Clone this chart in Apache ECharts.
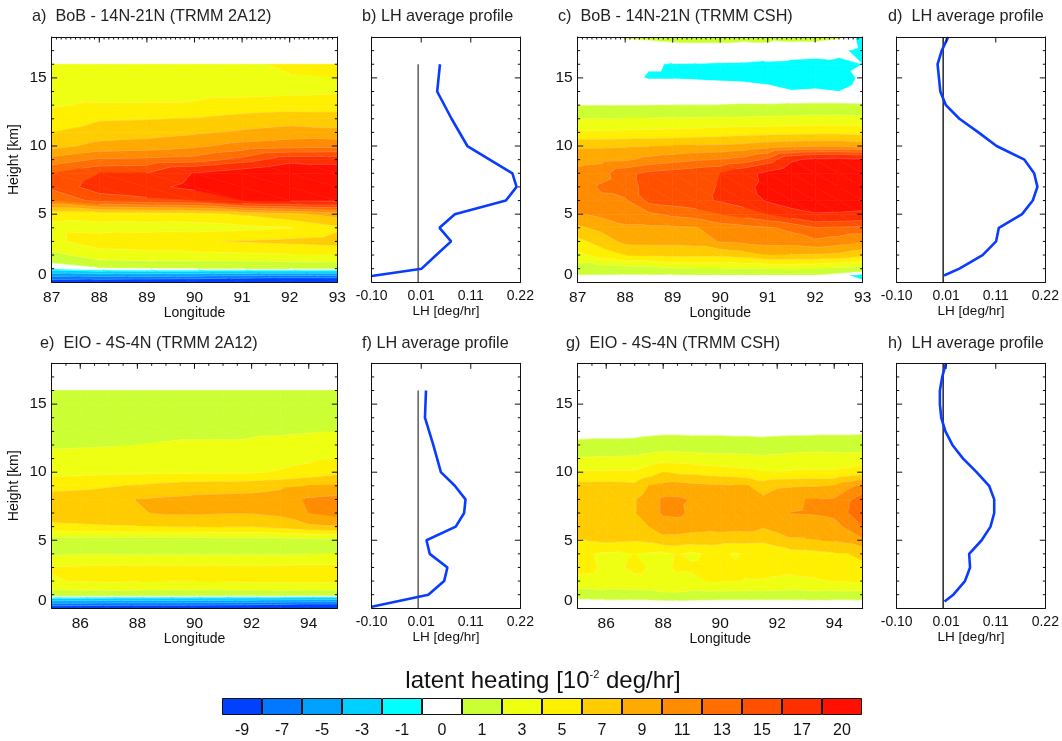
<!DOCTYPE html>
<html>
<head>
<meta charset="utf-8">
<title>latent heating</title>
<script src="https://cdn.jsdelivr.net/npm/echarts@6/dist/echarts.min.js"></script>
<style>
  html, body { margin: 0; padding: 0; background: #fff; }
  #chart-container { width: 1062px; height: 741px; }
</style>
</head>
<body>
<div id="chart-container"></div>
<script>
// colour bar, values in 10^-2 deg/hr. a band runs from its label up to the next one
const colorbarLabels = ['-9', '-7', '-5', '-3', '-1', '0', '1', '3', '5', '7', '9', '11', '13', '15', '17', '20'];
const bandLevels = [-Infinity, -7, -5, -3, -1, 0, 1, 3, 5, 7, 9, 11, 13, 15, 17, 20];
const bandColors = ['#0040ff', '#0078ff', '#00a0ff', '#00d0ff', '#00ffff', '#ffffff', '#ccff33', '#eeff11',
  '#fff000', '#ffcc00', '#ffaa00', '#ff8c00', '#ff6e00', '#ff5000', '#ff3000', '#ff1000'];

// a) BoB 2A12, rows go from the top height down
const bobLon2a12 = [87, 88, 89, 90, 91, 92, 93];
const bobHeights2a12 = [16, 15, 14, 13, 12, 11, 10, 9, 8, 7, 6, 5, 4, 3, 2, 1, 0];
const bobRows2a12 = [
  [3.6, 3.5, 3.5, 3.6, 3.9, 6, 6.2],
  [3.6, 3.5, 3.5, 3.7, 3.9, 4.5, 5],
  [4.2, 3.8, 3.9, 4.4, 4.4, 4.6, 4.8],
  [4.8, 5.3, 5.3, 5.3, 5.8, 6, 6],
  [5.5, 6.8, 6.9, 7.1, 7.7, 8.1, 8],
  [7, 8, 8.2, 8.7, 9.3, 9.8, 9.5],
  [8.3, 9.6, 9.9, 10.6, 11.7, 12.2, 12.5],
  [11.7, 13.3, 13.5, 13.9, 15.7, 18.5, 18.5],
  [15, 17, 17.1, 20.2, 22, 24, 23],
  [15.5, 18.1, 19, 21, 24, 25, 25],
  [13, 15.8, 16.4, 17, 20, 20.4, 20.5],
  [5.5, 5.8, 6, 6.2, 7.3, 8.5, 9.8],
  [4.6, 4.4, 4.3, 4.2, 4.5, 4.9, 6.6],
  [4.6, 5.9, 6.3, 6.8, 7.15, 7.5, 7.9],
  [2.3, 4.2, 4.4, 4.4, 4.6, 4.8, 5],
  [0, 0.8, 0.95, 1, 1, 1.05, 1.05],
  [-8.8, -9.2, -9.5, -9.8, -10.5, -11, -11],
];

// c) BoB CSH
const bobLonCsh = [87, 87.5, 88, 88.5, 89, 89.5, 90, 90.5, 91, 91.5, 92, 92.5, 93];
const bobHeightsCsh = [18, 17, 16, 15, 14, 13, 12, 11, 10, 9, 8, 7, 6, 5, 4, 3, 2, 1, 0.5, 0];
const bobRowsCsh = [
  [0.6, 0.8, 1.1, 1.2, 1.3, 1.3, 1.3, 1.2, 1.2, 1.3, 1.3, 1.1, -0.5],
  [0.2, 0.2, 0.2, 0.3, 0.5, 0.6, 0.6, 0.6, 0.7, 0.45, 0.37, 0.2, -0.3],
  [0.3, 0.3, 0.25, 0.05, -0.03, -0.04, -0.08, -0.1, -0.2, -0.25, -0.3, -0.2, 0],
  [0.3, 0.3, 0.2, -0.05, -0.05, -0.1, -0.15, -0.2, -0.3, -0.5, -0.4, -0.5, 0.2],
  [0.5, 0.5, 0.5, 0.5, 0.5, 0.6, 0.5, 0.45, 0.3, 0.05, 0.1, 0, 0.4],
  [0.95, 0.95, 0.95, 0.97, 1, 1, 1, 1.05, 1.05, 1.1, 1.15, 1.15, 1.1],
  [3, 3, 3, 3.1, 3.2, 3.2, 3.3, 3.3, 3.4, 3.5, 3.6, 3.6, 3.5],
  [5.3, 5.3, 5.4, 5.5, 5.6, 5.8, 6, 6.2, 6.3, 6.4, 6.5, 6.5, 6.3],
  [8.7, 8.7, 8.8, 8.9, 9, 9.2, 9.3, 9.6, 10.1, 10.4, 10.6, 10.6, 10.2],
  [10.3, 10.5, 10.7, 11.6, 12.2, 12.8, 13.1, 13.8, 15.5, 19.5, 20.8, 21, 20.5],
  [11.6, 12.2, 14.5, 15.5, 16, 16.5, 17, 19, 20.8, 22.5, 23.5, 24, 23.5],
  [11.8, 13.3, 14.2, 15.6, 16.3, 16.6, 17.1, 19.5, 20.6, 22, 23, 23, 23],
  [12.5, 12.6, 12.7, 15.6, 16, 16.5, 17.2, 18, 20.4, 22, 23, 23.3, 23],
  [10.8, 11.5, 12, 12.6, 13.5, 14, 15, 16, 17, 18.5, 19.7, 19.5, 19],
  [8.6, 9.6, 10.7, 10.7, 10.7, 10.9, 12, 12.4, 12.8, 13.5, 14.9, 14.7, 14.6],
  [6.4, 7.8, 9.6, 9.6, 9.6, 9.8, 11.2, 11.5, 11.9, 12, 12.6, 12, 11],
  [4.4, 6, 7, 7.3, 7.5, 7.5, 7.4, 8, 9, 8.8, 8.8, 8.5, 7.5],
  [2, 1.9, 2, 2.1, 2.8, 2.9, 3, 3, 3, 3.2, 3, 2.5, 2],
  [0.9, 0.9, 0.85, 0.85, 0.8, 0.85, 0.85, 0.9, 0.85, 0.85, 0.85, 0.3, -0.4],
  [0.2, 0.2, 0.2, 0.2, 0.2, 0.2, 0.2, 0.2, 0.2, 0.2, 0.2, 0.2, 0.2],
];

// e) EIO 2A12
const eioLon2a12 = [85, 86, 87, 88, 89, 90, 91, 92, 93, 94, 95];
const eioHeights2a12 = [16, 15, 14, 13, 12, 11, 10, 9, 8, 7, 6, 5, 4, 3, 2, 1, 0];
const eioRows2a12 = [
  [2, 2, 2, 2, 2.1, 2.2, 2.2, 2.2, 2.2, 2.2, 2.2],
  [2, 2, 2, 2.1, 2.1, 2.2, 2.2, 2.2, 2.3, 2.3, 2.3],
  [2.2, 2.2, 2.2, 2.3, 2.3, 2.4, 2.4, 2.4, 2.5, 2.5, 2.5],
  [2.5, 2.5, 2.6, 2.6, 2.7, 2.7, 2.7, 2.8, 2.8, 2.9, 3],
  [2.7, 2.8, 2.9, 3, 3.1, 3.2, 3.2, 3.2, 3.4, 3.6, 3.9],
  [3.7, 3.7, 3.7, 3.7, 3.8, 3.8, 3.9, 3.9, 4.2, 4.6, 5],
  [4.4, 4.5, 4.6, 4.6, 4.7, 4.7, 4.7, 4.8, 5.2, 5.8, 6.5],
  [6.2, 6.4, 6.8, 7.2, 7.6, 8, 8.1, 8.2, 8.6, 9, 9.3],
  [8.2, 8.3, 8.5, 9.05, 9.3, 9.5, 9.6, 9.7, 10, 11.3, 11.7],
  [8.4, 8.5, 8.6, 8.8, 9.3, 9.3, 9.1, 9.1, 9.4, 11, 11.8],
  [6.4, 6.6, 6.8, 6.9, 7, 7, 7.1, 7.1, 7.8, 8.6, 8.9],
  [1.9, 2, 2, 2, 2, 2, 2.1, 2.1, 2.1, 2.2, 2.2],
  [2.7, 2.9, 2.9, 2.8, 2.8, 2.8, 2.8, 2.8, 2.8, 2.9, 3],
  [5.1, 5.3, 5.4, 5.4, 5.4, 5.4, 5.4, 5.3, 5.4, 5.5, 5.6],
  [4.9, 5.1, 5.3, 5.1, 5, 5, 5.2, 5.3, 5.4, 5.4, 5.5],
  [2, 2, 1.9, 1.9, 1.9, 1.9, 1.8, 1.8, 1.8, 1.7, 1.7],
  [-9, -9.2, -9.4, -9.6, -9.6, -9.7, -9.8, -10, -10.5, -11, -11],
];

// g) EIO CSH
const eioLonCsh = [85, 85.5, 86, 86.5, 87, 87.5, 88, 88.5, 89, 89.5, 90, 90.5, 91, 91.5, 92, 92.5, 93, 93.5, 94, 94.5, 95];
const eioHeightsCsh = [14, 13, 12, 11, 10, 9, 8, 7, 6, 5, 4, 3, 2, 1, 0.5, 0];
const eioRowsCsh = [
  [0.4, 0.4, 0.4, 0.4, 0.4, 0.4, 0.4, 0.4, 0.4, 0.4, 0.4, 0.4, 0.4, 0.4, 0.4, 0.4, 0.4, 0.4, 0.4, 0.4, 0.4],
  [0.4, 0.45, 0.45, 0.45, 0.5, 0.6, 0.7, 0.7, 0.65, 0.65, 0.65, 0.6, 0.6, 0.55, 0.6, 0.65, 0.65, 0.7, 0.7, 0.7, 0.75],
  [1.4, 1.45, 1.45, 1.45, 1.5, 1.7, 1.8, 1.8, 1.75, 1.75, 1.75, 1.7, 1.7, 1.6, 1.7, 1.75, 1.75, 1.8, 1.8, 1.8, 1.8],
  [3.2, 3.2, 3.3, 3.3, 3.4, 3.8, 4.2, 4.2, 4, 3.8, 3.7, 3.7, 3.6, 3.4, 3.6, 3.8, 4, 4.1, 4, 3.9, 3.9],
  [5.2, 5.2, 5.3, 5.3, 5.2, 6, 7, 6.6, 6.5, 6.2, 6, 5.8, 5.5, 5, 5.1, 5.2, 5.3, 5.2, 5.2, 5.5, 5.9],
  [7.7, 7.7, 7.8, 7.7, 7.5, 9, 9.6, 9.9, 9.6, 9.4, 9.3, 9.2, 9, 8, 8.7, 8.8, 8.9, 8.9, 9, 10.5, 11.5],
  [8.2, 8.2, 8.3, 8.4, 8.9, 10, 11.3, 11.3, 10.9, 10.5, 10.3, 10.3, 10.3, 9.4, 10.2, 10.6, 11, 11.1, 11.2, 12.7, 14],
  [8.3, 8.3, 8.4, 8.5, 8.9, 9.9, 11.3, 11.5, 10.6, 10.3, 10.2, 10.3, 10.4, 10.2, 10.6, 11.05, 11.1, 11.2, 11.5, 13, 14.6],
  [8, 8, 8.2, 8.3, 8.3, 9, 10, 10, 9.8, 9.7, 9.9, 9.8, 9.9, 9.2, 9.8, 9.9, 10.2, 10.2, 10.3, 11.5, 13],
  [6.8, 7.2, 7.5, 7.3, 7.2, 7.5, 8.3, 8.3, 8, 7.9, 7.7, 7.6, 7.5, 7.4, 8, 8.8, 8.8, 9, 9.2, 9.6, 10.8],
  [5.5, 5.1, 4.7, 4.6, 5, 4.7, 4.6, 5.1, 4.6, 5.2, 5.4, 4.8, 5.3, 5.2, 5.8, 6.2, 6.3, 6.5, 6.8, 7, 7.2],
  [5.4, 5.3, 4.5, 4.8, 5.5, 4.9, 4.7, 5.2, 5.3, 5.5, 5.6, 5.3, 5.6, 5.6, 5.7, 5.7, 5.6, 5.8, 6, 6.4, 6.8],
  [4.6, 4.6, 4.3, 4.3, 4.3, 4.5, 4.8, 4.7, 4.5, 5, 5.1, 5.1, 4.9, 4.9, 4.7, 4.4, 4.7, 4.9, 5.1, 5.1, 5],
  [1.7, 1.8, 2.2, 2.1, 2.2, 2.3, 2.5, 2.6, 2.4, 2.3, 2.2, 2.2, 2.2, 2.2, 2.2, 2.2, 2.3, 2.3, 2.2, 2.2, 2.1],
  [0.6, 0.6, 0.6, 0.6, 0.6, 0.6, 0.7, 0.7, 0.65, 0.6, 0.6, 0.6, 0.6, 0.6, 0.6, 0.6, 0.6, 0.6, 0.6, 0.6, 0.65],
  [0.3, 0.3, 0.3, 0.3, 0.3, 0.3, 0.3, 0.3, 0.3, 0.3, 0.3, 0.3, 0.3, 0.3, 0.3, 0.3, 0.3, 0.3, 0.3, 0.3, 0.3],
];

// average profiles, [LH in deg/hr, height in km]
const profileB = [[0.047, 16], [0.041, 14], [0.072, 12], [0.106, 10], [0.203, 8], [0.212, 7], [0.189, 6], [0.079, 5],
  [0.046, 4], [0.071, 3], [0.039, 2], [0.0076, 1], [-0.1, 0.46]];
const profileD = [[0.011, 18], [-0.003, 17], [-0.012, 16], [-0.009, 15], [-0.006, 14], [0.006, 13], [0.035, 12],
  [0.076, 11], [0.115, 10], [0.175, 9], [0.196, 8], [0.203, 7], [0.193, 6], [0.17, 5], [0.12, 4], [0.114, 3],
  [0.085, 2], [0.035, 1], [0.002, 0.5]];
const profileF = [[0.0169, 16], [0.0147, 14], [0.0326, 12], [0.049, 10], [0.079, 9], [0.102, 8], [0.099, 7], [0.081, 6],
  [0.018, 5], [0.025, 4], [0.063, 3], [0.056, 2], [0.022, 1], [-0.1, 0.12]];
const profileH = [[0.006, 18], [-0.002, 17], [-0.007, 16], [-0.007, 15], [-0.004, 14], [0.005, 13], [0.02, 12],
  [0.043, 11], [0.072, 10], [0.099, 9], [0.11, 8], [0.11, 7], [0.102, 6], [0.083, 5], [0.056, 4], [0.058, 3],
  [0.047, 2], [0.022, 1], [0.003, 0.5]];
const zeroLine2a12 = [[0, 16], [0, 0]];
const zeroLineCsh = [[0, 18], [0, 0]];

// tick labels
const heightTicks = [0, 5, 10, 15];
const bobLonLabels = [87, 88, 89, 90, 91, 92, 93];
const bobLonTicks = [88, 89, 90, 91, 92];
const eioLonLabels = [86, 88, 90, 92, 94];
const lhTicks = [-0.1, 0.32 / 3 - 0.1, 0.64 / 3 - 0.1, 0.22];

const font = '"Liberation Sans", Arial, sans-serif';
const inkColor = '#111';
const longTick = 5.5;
const shortTick = 2.5;
const option = {
  animation: false,
  textStyle: { fontFamily: font },
  title: [],
  grid: [],
  xAxis: [],
  yAxis: [],
  series: [],
};

function clipBand(poly, level, sign) {
  let out = [];
  poly.forEach((p, i) => {
    let q = poly[(i + 1) % poly.length];
    let pIn = sign * (p[2] - level) >= 0;
    let qIn = sign * (q[2] - level) >= 0;
    if (pIn) out.push(p);
    if (pIn !== qIn) {
      let t = (level - p[2]) / (q[2] - p[2]);
      out.push([p[0] + t * (q[0] - p[0]), p[1] + t * (q[1] - p[1]), level]);
    }
  });
  return out;
}

function contourItem(longitudes, heights, rows) {
  return function (params, api) {
    let i = api.value(2);
    let j = api.value(3);
    let c00 = [longitudes[i], heights[j], rows[j][i]];
    let c10 = [longitudes[i + 1], heights[j], rows[j][i + 1]];
    let c11 = [longitudes[i + 1], heights[j + 1], rows[j + 1][i + 1]];
    let c01 = [longitudes[i], heights[j + 1], rows[j + 1][i]];
    let fills = [];
    let lines = [];
    [[c00, c10, c11], [c00, c11, c01]].forEach((tri) => {
      bandLevels.forEach((lo, b) => {
        let hi = b + 1 < bandLevels.length ? bandLevels[b + 1] : Infinity;
        let poly = tri;
        if (lo !== -Infinity) poly = clipBand(poly, lo, 1);
        if (poly.length > 2 && hi !== Infinity) poly = clipBand(poly, hi, -1);
        if (poly.length < 3) return;
        let color = bandColors[b];
        fills.push({
          type: 'polygon',
          silent: true,
          shape: { points: poly.map((p) => api.coord([p[0], p[1]])) },
          style: { fill: color, stroke: color, lineWidth: 0.6 },
        });
        // faint edge as in the postscript contour fill
        if (lo !== -Infinity) {
          let edge = poly.filter((p) => p[2] === lo).map((p) => api.coord([p[0], p[1]]));
          if (edge.length === 2) {
            lines.push({
              type: 'line',
              silent: true,
              z2: 5,
              shape: { x1: edge[0][0], y1: edge[0][1], x2: edge[1][0], y2: edge[1][1] },
              style: { stroke: 'rgba(255,255,255,0.3)', lineWidth: 0.6 },
            });
          }
        }
      });
    });
    return { type: 'group', children: fills.concat(lines) };
  };
}

// inward tick: [x, y, pixels in x, pixels in y]
function tickItem(params, api) {
  let p = api.coord([api.value(0), api.value(1)]);
  return {
    type: 'line',
    silent: true,
    shape: { x1: p[0], y1: p[1], x2: p[0] + api.value(2), y2: p[1] + api.value(3) },
    style: { stroke: inkColor, lineWidth: 1 },
  };
}

function boxTicks(xCfg) {
  let ticks = [];
  (xCfg.minorTicks || []).forEach((x) => ticks.push([x, 18, 0, shortTick]));
  xCfg.majorTicks.forEach((x) => ticks.push([x, 18, 0, longTick]));
  for (let h = 1; h < 18; h++) {
    let len = heightTicks.includes(h) ? longTick : shortTick;
    ticks.push([xCfg.min, h, len, 0]);
    ticks.push([xCfg.max, h, -len, 0]);
  }
  return ticks;
}

// one box with bottom/left labelled axes, plain top/right edges
function addBox(rect, xCfg, showHeightLabels, heightName) {
  let g = option.grid.length;
  let line = { show: true, onZero: false, lineStyle: { color: inkColor, width: 1 } };
  option.grid.push({ show: false, left: rect[0], top: rect[1], width: rect[2], height: rect[3] });

  let xMain = option.xAxis.length;
  let yMain = option.yAxis.length;
  option.xAxis.push({
    type: 'value', gridIndex: g, position: 'bottom', min: xCfg.min, max: xCfg.max, z: 6,
    axisLine: line, axisTick: { show: false }, splitLine: { show: false },
    name: xCfg.name, nameLocation: 'middle', nameGap: xCfg.nameGap,
    nameTextStyle: { fontSize: xCfg.nameSize, color: inkColor },
    axisLabel: {
      customValues: xCfg.labels, margin: xCfg.margin, fontSize: xCfg.labelSize, color: inkColor,
      formatter: xCfg.formatter, showMinLabel: true, showMaxLabel: true, hideOverlap: false,
    },
  });
  option.xAxis.push({
    type: 'value', gridIndex: g, position: 'top', min: xCfg.min, max: xCfg.max, z: 6,
    axisLine: line, axisLabel: { show: false }, splitLine: { show: false }, axisTick: { show: false },
  });
  option.yAxis.push({
    type: 'value', gridIndex: g, position: 'left', min: 0, max: 18, z: 6,
    axisLine: line, splitLine: { show: false }, axisTick: { show: false },
    name: heightName, nameLocation: 'middle', nameGap: 31,
    nameTextStyle: { fontSize: 14, color: inkColor },
    axisLabel: {
      show: showHeightLabels, customValues: heightTicks, margin: 5, fontSize: 15.5, color: inkColor,
      verticalAlignMinLabel: 'bottom',
    },
  });
  option.yAxis.push({
    type: 'value', gridIndex: g, position: 'right', min: 0, max: 18, z: 6,
    axisLine: line, splitLine: { show: false }, axisLabel: { show: false }, axisTick: { show: false },
  });
  option.series.push({
    type: 'custom',
    xAxisIndex: xMain,
    yAxisIndex: yMain,
    coordinateSystem: 'cartesian2d',
    silent: true,
    clip: false,
    z: 5,
    encode: { x: 0, y: 1 },
    data: boxTicks(xCfg),
    renderItem: tickItem,
  });
  return { xMain, yMain };
}

function addContour(rect, longitudes, heights, rows, lonLabels, lonTicks, minorTicks, heightName) {
  let axes = addBox(rect, {
    min: longitudes[0], max: longitudes[longitudes.length - 1],
    labels: lonLabels, majorTicks: lonTicks, minorTicks,
    name: 'Longitude', nameGap: 23, nameSize: 14, margin: 7, labelSize: 15.5,
  }, true, heightName);
  let cells = [];
  for (let j = 0; j + 1 < heights.length; j++) {
    for (let i = 0; i + 1 < longitudes.length; i++) {
      cells.push([longitudes[i], heights[j], i, j]);
    }
  }
  option.series.push({
    type: 'custom',
    xAxisIndex: axes.xMain,
    yAxisIndex: axes.yMain,
    coordinateSystem: 'cartesian2d',
    silent: true,
    clip: true,
    encode: { x: 0, y: 1 },
    data: cells,
    renderItem: contourItem(longitudes, heights, rows),
  });
}

function addProfile(rect, profile, zeroLine, zeroColor) {
  let axes = addBox(rect, {
    min: -0.1, max: 0.22,
    labels: lhTicks, majorTicks: lhTicks.slice(1, 3), minorTicks: null,
    name: 'LH [deg/hr]', nameGap: 21.5, nameSize: 13.5, margin: 7, labelSize: 14,
    formatter: (v) => v.toFixed(2),
  }, false, '');
  option.series.push({
    type: 'line', xAxisIndex: axes.xMain, yAxisIndex: axes.yMain, data: zeroLine, symbol: 'none', silent: true,
    lineStyle: { color: zeroColor, width: 1.3 },
  });
  option.series.push({
    type: 'line', xAxisIndex: axes.xMain, yAxisIndex: axes.yMain, data: profile, symbol: 'none', silent: true,
    z: 3, lineStyle: { color: '#0a3cff', width: 2.6 },
  });
}

function addTitle(text, left, top) {
  option.title.push({
    text, left, top, padding: 0,
    textStyle: { fontSize: 16.2, fontWeight: 'normal', color: '#222', fontFamily: font },
  });
}

addTitle('a)  BoB - 14N-21N (TRMM 2A12)', 32, 9);
addTitle('b) LH average profile', 362, 9);
addTitle('c)  BoB - 14N-21N (TRMM CSH)', 558, 9);
addTitle('d)  LH average profile', 888, 9);
addTitle('e)  EIO - 4S-4N (TRMM 2A12)', 40, 336);
addTitle('f) LH average profile', 362, 336);
addTitle('g)  EIO - 4S-4N (TRMM CSH)', 566, 336);
addTitle('h)  LH average profile', 888, 336);

// ticks every 0.1 deg on the top edge of the BoB boxes, 0.5 deg on the EIO ones
const bobMinorTicks = [];
for (let k = 871; k < 930; k++) bobMinorTicks.push(k / 10);
const eioMinorTicks = eioLonCsh.slice(1, -1);

addContour([51.7, 37, 285.6, 245.3], bobLon2a12, bobHeights2a12, bobRows2a12, bobLonLabels, bobLonTicks, bobMinorTicks, 'Height [km]');
addProfile([371.7, 37, 148.6, 245.3], profileB, zeroLine2a12, '#444');
addContour([577.7, 37, 285, 245.3], bobLonCsh, bobHeightsCsh, bobRowsCsh, bobLonLabels, bobLonTicks, bobMinorTicks, '');
addProfile([896.7, 37, 148.6, 245.3], profileD, zeroLineCsh, '#000');
addContour([51.7, 363.3, 285.6, 245], eioLon2a12, eioHeights2a12, eioRows2a12, eioLonLabels, eioLonLabels, eioMinorTicks, 'Height [km]');
addProfile([371.7, 363.3, 148.6, 245], profileF, zeroLine2a12, '#444');
addContour([577.7, 363.3, 285, 245], eioLonCsh, eioHeightsCsh, eioRowsCsh, eioLonLabels, eioLonLabels, eioMinorTicks, '');
addProfile([896.7, 363.3, 148.6, 245], profileH, zeroLineCsh, '#000');

// colour bar
option.title.push({
  text: 'latent heating [10{sup|-2} deg/hr]',
  left: 543, top: 669, textAlign: 'center', padding: 0,
  textStyle: {
    fontSize: 24, fontWeight: 'normal', color: '#111', fontFamily: font,
    rich: { sup: { fontSize: 11, padding: [0, 0, 12, 0], color: '#111', fontFamily: font } },
  },
});
let barGrid = option.grid.length;
option.grid.push({ show: false, left: 222, top: 698, width: 640, height: 17 });
option.xAxis.push({
  type: 'category', gridIndex: barGrid, data: colorbarLabels,
  axisLine: { show: false }, axisTick: { show: false }, splitLine: { show: false },
  axisLabel: { interval: 0, margin: 8, fontSize: 16, color: '#111' },
});
option.yAxis.push({ type: 'value', gridIndex: barGrid, min: 0, max: 1, show: false });
option.series.push({
  type: 'bar',
  xAxisIndex: option.xAxis.length - 1,
  yAxisIndex: option.yAxis.length - 1,
  barWidth: '100%',
  silent: true,
  data: bandColors.map((color) => ({ value: 1, itemStyle: { color, borderColor: '#111', borderWidth: 1 } })),
});

var myChart = echarts.init(document.getElementById('chart-container'));
myChart.setOption(option);
window.addEventListener('resize', myChart.resize);
</script>
</body>
</html>
